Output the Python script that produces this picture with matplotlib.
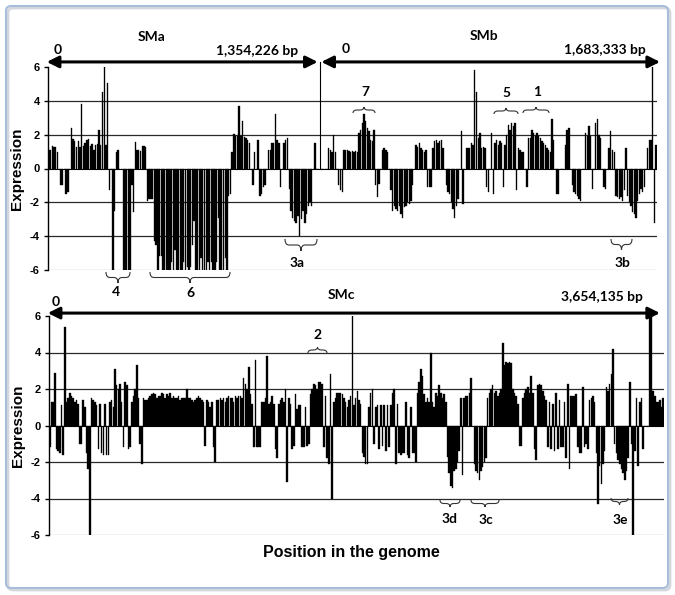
import numpy as np
import matplotlib
matplotlib.use("Agg")
import matplotlib.pyplot as plt
import matplotlib.transforms as mtransforms
from matplotlib.patches import FancyArrowPatch, FancyBboxPatch, PathPatch
from matplotlib.path import Path

plt.rcParams['font.family'] = ['Liberation Sans', 'DejaVu Sans']
plt.rcParams['axes.unicode_minus'] = False

# replicon lengths (bp)
len_sma = 1354226
len_smb = 1683333
len_smc = 3654135

# expression values, left to right along each replicon
sma_expr = [
    1.1, 1.1, 1.35, 1.3, 1.3, 1.0, 0, -1.0, -1.0, 0, -1.5, -1.4, 0,
    2.4, 1.75, 1.6, 1.25, 1.6, 1.3, 3.8, 1.35, 1.5, 1.7, 1.75, 1.35, 1.45, 1.1, 1.4, 1.45, 2.25, 1.4,
    4.5, 6.0, 1.4, 5.05, -1.3, 0, -6.0, -2.5, 1.0, 1.1, 0, 0,
    -6.0, -6.0, -6.0, -6.0, -6.0, -1.0, -2.6,
    1.55, 1.1, 1.1, 1.05, 1.35, 1.35, 1.3,
    -1.9, -1.8, -1.8, -1.8, -4.3, -4.5, -6.0, -5.2, -5.2,
    -6.0, -6.0, -6.0, -6.0, -6.0, -5.5, -6.0, -4.8, -6.0, -6.0, -6.0,
    -6.0, -5.5, -6.0, -5.8, -6.0, -5.8, -4.5, -3.1, -6.0, -6.0, -6.0, -5.3, -6.0, -6.0,
    -6.0, -5.5, -6.0, -5.5, -6.0, -6.0, -5.5, -2.9, -6.0, -6.0, -6.0, -5.3, -6.0,
    -1.6, -1.5,
    1.0, 2.05, 1.9, 1.9, 3.7, 1.9, 2.8, 1.85, 1.8, 1.7, 1.5, 0, -1.0, 1.0, 0, 1.7,
    -1.6, -1.5, -1.1, -1.0, 0, 1.1, 1.1, 1.5, 1.5, 3.2, 1.7, 1.5, -1.1, 0, 1.5, 1.7, 1.8,
    -1.2, -2.5, -2.9, -3.1, -3.2, -2.8, -4.0, -3.0, -2.5, -3.2, -2.7, -2.2, -2.0, -2.2, 0, 1.5, 0, 0,
]

smb_expr = [
    0, 0, 0, 0, 0,
    1.2, 1.1, 1.0, 2.0, 1.0, 0, -1.0, -1.3, -1.4, 1.1, 1.1, 1.1, 1.05, 1.0, 1.05, 1.0, 1.05, 1.0,
    2.1, 2.3, 2.7, 3.2, 2.8, 2.4, 2.2, 1.7, 1.6, 2.3, -1.0, -1.7, -0.9, 0, 1.1, 1.2, 1.1, 1.0, 0,
    -1.3, -2.5, -2.2, -2.4, -2.5, -2.2, -2.7, -2.9, -2.3, -2.2, -2.0, -2.1, -1.9, -1.0, 0,
    1.4, 1.3, 1.5, 1.2, 1.1, 1.0, 1.1, -1.1, -1.1, -1.1, 1.2, 1.6, 1.7, 1.5, 1.6, 1.7, 1.2, 0,
    -1.0, -1.4, -1.5, -2.0, -2.4, -2.9, -2.2, -1.8, 0, 2.2, -2.1, 0,
    1.2, 1.2, 1.2, 1.5, 1.4, 5.8, 4.5, 1.8, 2.1, 1.2, 1.3, 1.2, -1.1, -1.4, 0,
    2.1, -1.5, 1.5, 1.7, 1.4, 1.6, 1.5, -1.1, 1.4, 2.0, 2.6, 2.3, 2.7, 2.5, 2.7, -1.3,
    1.2, 1.1, 1.0, 1.0, 0, -1.1, 1.8, 1.8, 2.3, 2.1, 1.9, 2.1, 1.9, 1.8, 1.6, 1.5, 1.4, 1.2,
    1.1, 1.0, 2.9, 1.7, 0, -1.5, -1.5, 0, 0, 0, 1.4, 2.3, 2.4, 0,
    -1.0, -1.4, -1.5, -1.6, -1.8, -1.9, 0, 0, 2.1, 1.9, 2.5, 1.9, -1.2, 0, 2.7, 2.9, 2.0, 1.8, 0,
    -1.1, -1.2, 0, 1.2, 2.2, 1.1, 1.0, -1.6, -1.7, -1.8, -1.7, -1.9, -1.3, 1.2,
    -1.6, -2.0, -2.2, -2.6, -2.7, -2.9, -1.9, -1.5, -1.2, -1.4, -1.1, 0, 1.2, 1.7, 1.7, 6.0, -3.2, 1.4,
]

smc_expr = [
    -1.2, 1.3, 1.3, 2.9, -1.3, -1.4, -1.5, 1.1, -1.6, 5.4, 1.3, 1.5, 1.8, 1.6, 1.5, 1.3, 1.4, 1.2,
    -1.0, -1.0, 1.4, 1.0, -1.5, -2.4, -6.0, 1.5, 1.4, 1.3, 1.1, -1.3, 1.2, -1.5, -1.6, 1.2, -1.6,
    -1.6, 1.3, 1.4, 1.0, 3.1, 2.2, 2.0,
    2.3, 1.3, -1.2, 2.4, 2.2, -1.3, -1.2, 1.3, 1.6, 2.0,
    3.3, 1.5, -1.0, -2.1, 1.5, 1.4, 1.4, 1.5, 1.6, 1.7,
    1.8, 1.7, 1.5, 1.6, 1.6, 1.8, 1.7, 1.5, 1.7, 1.6,
    1.8, 1.5, 1.6, 1.5, 1.5, 1.6, 1.4, 1.5, 1.5, 1.5,
    2.0, 1.5, 1.5, 1.4, 1.3, 1.4, 1.5, 1.6, 1.5, 1.4,
    1.3, -1.1, 1.4, 1.3, 1.0, 1.3, -1.2, -2.0, 1.4, 1.4,
    1.5, 1.4, 1.5, 1.3, 1.5, 1.6, 1.5, 1.5, 1.3, 1.6,
    1.5, 1.6,
    1.6, 1.5, 2.6, 2.3, 2.0, 3.2, 1.7, 1.2, -1.2, 3.6,
    -1.2, -1.2, -1.2, 1.3, 1.3, 1.5, 3.8, 1.2, 1.3, 1.6,
    1.2, -1.3, -1.8, 1.2, 1.4, 1.5, 1.3, 2.0, -3.1, 1.5,
    1.2, -1.3, -1.1, 1.7, 0.9, 1.1, 1.1, -1.2, -1.2, 1.0,
    -1.1, -1.0, 1.7, 2.0, 2.3, 2.2, 2.0, 2.4, 2.4, 2.3,
    -1.2, 1.6, -1.8, -2.1, 2.8, -4.0, 1.3, 1.5, 1.8, 1.8,
    1.8, 1.7, 1.5, 1.3, 1.0, 1.4, 1.6, 6.0, 1.1, 1.5,
    1.9, 1.4, 1.2, -1.5, -1.7, -2.1, -2.1, 1.0, 1.8, 2.0,
    -1.0, 1.0, 1.1, -1.3, 1.1, -1.1, 1.1, -1.4, 1.1, -1.2,
    1.1, 1.8, 2.0, -2.1, 1.2, -1.5, -1.6, -1.5, -1.5, 1.3,
    -1.6, -1.8, 1.0, -1.5, -1.5, -2.0, 1.8, 2.4, 3.1, 2.7,
    1.7, 1.3, 1.5, 1.3, 4.0, 1.3, 1.0, 1.8, 1.6, 2.2,
    1.8, 1.5, 1.7, 1.3, -1.7, -2.6,
    -3.3, -3.4, -2.5, -2.4, -2.0, -1.4, 1.5, -2.7, 1.5, 1.6,
    1.6, 1.8, 2.6, 0, -2.1, -2.5, -2.6, -3.0, -2.5, -2.3,
    -2.0, -1.8, 1.5, 1.8, 2.0, 2.2, 1.8, 1.9, 1.6, 1.8,
    2.0, 4.5, 3.3, 3.5, 3.4, 3.5, 3.4, 2.0, 1.8, 1.6,
    1.2, -1.1, -1.1, 1.5, 1.8, 2.0, 2.1, 1.8, 2.7, 1.8,
    -1.3, -1.9, 2.2, 2.3, 2.2, 1.9, 1.6, 1.4, -1.2, 1.3,
    -1.3, 1.2, -1.4, 1.8, -1.3, 1.4,
    -1.2, -1.2, 1.3, -1.8, 2.3, -2.4, 1.6, 1.6, 1.6, 1.7,
    -1.2, -1.5, -1.5, 2.1, -1.2, -1.0, -1.3, 1.4, 1.5, 1.6,
    1.3, -1.5, -4.3, -2.2, -3.2, -2.1, -1.4, 2.1, 1.9, 2.3,
    2.8, 4.2, -1.0, -1.5, -1.9, -2.1, -2.4, -2.6, -3.0, -2.5,
    -1.8, 2.4, -1.0, -6.0, -1.4, 1.5, -2.2, 1.3, 1.5, -1.3,
    0, 0, 0, 6.0, 6.0, 1.9, 1.6, 1.3, 1.3, 1.4,
    1.0, 1.5,
]

yticks = [-6, -4, -2, 0, 2, 4, 6]

W, H = 675, 595
fig = plt.figure(figsize=(W / 100, H / 100), dpi=100)
# pixel coordinates of the picture (origin top-left) for annotations
px = mtransforms.Affine2D().scale(1, -1).translate(0, H).scale(1 / W, 1 / H) + fig.transFigure

shadow = FancyBboxPatch((8 / W, 1 - 590 / H), 662 / W, 582 / H,
                        boxstyle="round,pad=0,rounding_size=0.008",
                        transform=fig.transFigure, fill=False,
                        edgecolor="#d4d8de", lw=2.0, zorder=-2)
fig.add_artist(shadow)
frame = FancyBboxPatch((6 / W, 1 - 588 / H), 662 / W, 582 / H,
                       boxstyle="round,pad=0,rounding_size=0.008",
                       transform=fig.transFigure, fill=False,
                       edgecolor="#a8bcdc", lw=1.5, zorder=-1)
fig.add_artist(frame)

ax1 = fig.add_axes([48 / W, 1 - 270 / H, 609 / W, 203 / H])
ax2 = fig.add_axes([49 / W, 1 - 535 / H, 615 / W, 219 / H])


def positions(values, start, length, fill):
    n = len(values)
    return start + (np.arange(n) + 0.5) * length / n, fill * length / n


def style(ax):
    ax.set_ylim(-6, 6)
    ax.set_yticks(yticks)
    ax.set_yticklabels([str(t) for t in yticks], fontsize=8, fontweight="bold")
    ax.set_xticks([])
    for s in ["top", "right", "bottom"]:
        ax.spines[s].set_visible(False)
    ax.spines["left"].set_linewidth(1.0)
    ax.tick_params(axis="y", length=3, width=1, pad=3)
    for g in [-4, -2, 2, 4]:
        ax.axhline(g, color="#2a2a2a", lw=0.9, zorder=0)
    ax.axhline(-6, color="#a0a0a0", lw=0.9, zorder=0)
    ax.axhline(0, color="black", lw=0.8, zorder=1)
    ax.set_ylabel("Expression", fontsize=11, fontweight="bold", labelpad=4)
    ax.patch.set_alpha(0)


total_top = len_sma + len_smb
xa, wa = positions(sma_expr, 0, len_sma, 0.8)
xb, wb = positions(smb_expr, len_sma, len_smb, 0.8)
ax1.bar(xa, sma_expr, width=wa, color="black", edgecolor="black", linewidth=0.25, zorder=2)
ax1.bar(xb, smb_expr, width=wb, color="black", edgecolor="black", linewidth=0.25, zorder=2)
ax1.set_xlim(0, total_top)
style(ax1)

xc, wc = positions(smc_expr, 0, len_smc, 0.95)
ax2.bar(xc, smc_expr, width=wc, color="black", edgecolor="black", linewidth=0.25, zorder=2)
ax2.set_xlim(0, len_smc)
style(ax2)

# replicon arrows
gap = 0.003 * total_top
for a, b, ax, y in [(-0.002 * total_top, len_sma - gap, ax1, 6.3),
                    (len_sma + gap, total_top * 1.005, ax1, 6.3),
                    (-0.002 * len_smc, len_smc * 0.9935, ax2, 6.16)]:
    arr = FancyArrowPatch((a, y), (b, y), arrowstyle="<|-|>,head_length=0.7,head_width=0.35",
                          mutation_scale=10, lw=2.2, color="black",
                          shrinkA=0, shrinkB=0, clip_on=False, zorder=5)
    ax.add_patch(arr)
ax1.plot([len_sma, len_sma], [0, 6.3], color="black", lw=0.8, clip_on=False, zorder=4)

cal = ["Lato", "DejaVu Sans"]
labels = [
    ("0", 58, 50), ("SMa", 152, 37), ("1,354,226 bp", 257, 51),
    ("0", 346, 49), ("SMb", 484, 36), ("1,683,333 bp", 605, 50),
    ("0", 56, 302), ("SMc", 341, 295), ("3,654,135 bp", 602, 297),
]
for s, x, y in labels:
    fig.text(x, y, s, transform=px, ha="center", va="center", fontsize=10,
             fontweight="bold", family=cal)

fig.text(351, 553, "Position in the genome", transform=px, ha="center", va="center",
         fontsize=11.5, fontweight="bold")


def brace(x0, x1, y_end, y_tip):
    xm = (x0 + x1) / 2
    ym = (y_end + y_tip) / 2
    r = min(4, (x1 - x0) / 4)
    verts = [(x0, y_end), (x0, ym), (x0 + r, ym), (xm - r, ym), (xm, ym), (xm, y_tip),
             (xm, ym), (xm + r, ym), (x1 - r, ym), (x1, ym), (x1, y_end)]
    codes = [Path.MOVETO, Path.CURVE3, Path.CURVE3, Path.LINETO, Path.CURVE3, Path.CURVE3,
             Path.CURVE3, Path.CURVE3, Path.LINETO, Path.CURVE3, Path.CURVE3]
    fig.add_artist(PathPatch(Path(verts, codes), transform=px, fill=False,
                             edgecolor="#333333", lw=0.8))


braces = [
    ("7", 353, 375, 113, 107, 365, 92),
    ("5", 494, 518, 114, 108, 506, 93),
    ("1", 523, 549, 113, 107, 537, 92),
    ("4", 106, 130, 272, 283, 116, 292),
    ("6", 150, 230, 272, 283, 190, 293),
    ("3a", 285, 317, 239, 251, 297, 263),
    ("3b", 611, 632, 239, 250, 622, 263),
    ("2", 308, 327, 353, 347, 318, 335),
    ("3d", 440, 460, 500, 507, 450, 519),
    ("3c", 471, 499, 500, 507, 486, 520),
    ("3e", 611, 628, 498, 505, 620, 520),
]
for s, x0, x1, ye, yt, tx, ty in braces:
    brace(x0, x1, ye, yt)
    fig.text(tx, ty, s, transform=px, ha="center", va="center", fontsize=10,
             fontweight="bold", family=cal)

fig.savefig("out.png", dpi=100)
